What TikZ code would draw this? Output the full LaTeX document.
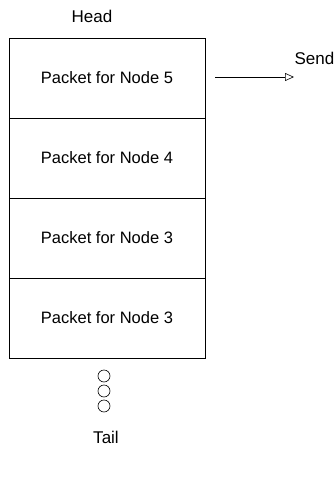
\documentclass[tikz,border=0pt]{standalone}
\usepackage{fontspec}
\setmainfont{Liberation Sans}
\usetikzlibrary{arrows.meta}

\begin{document}
\begin{tikzpicture}
        [x=1pt,y=-1pt,every node/.style={font=\fontsize{16.5}{19}\selectfont},
         label/.style={font=\fontsize{17}{20}\selectfont},
         slot/.style={draw,semithick,minimum width=196pt,minimum height=80pt,inner sep=0pt},
         dot/.style={draw,semithick,circle,minimum size=12pt,inner sep=0pt}]
        \useasboundingbox (0,0) rectangle (335,478);
        \node[label] (head) at (92,16) {Head};
        \node[slot] (p5) at (107,78) {Packet for Node 5}; \node[slot] (p4) at
        (107,158) {Packet for Node 4}; \node[slot] (p3) at (107,238) {Packet for Node 3};
        \node[slot] (p2) at (107,318) {Packet for Node 3};

        \foreach \n/\y in {1/376,2/391,3/406} \node[dot] (dot\n) at (104,\y) {};
        \node[label] (tail) at (106,437) {Tail};

        \coordinate (out) at (294,77);
        \node[label,anchor=east,inner sep=0pt] (send) at (334.5,58) {Send};
        \draw[semithick,-{Triangle[open,length=9pt,width=8pt]}] (215,77) -- (out);
    \end{tikzpicture}
\end{document}
